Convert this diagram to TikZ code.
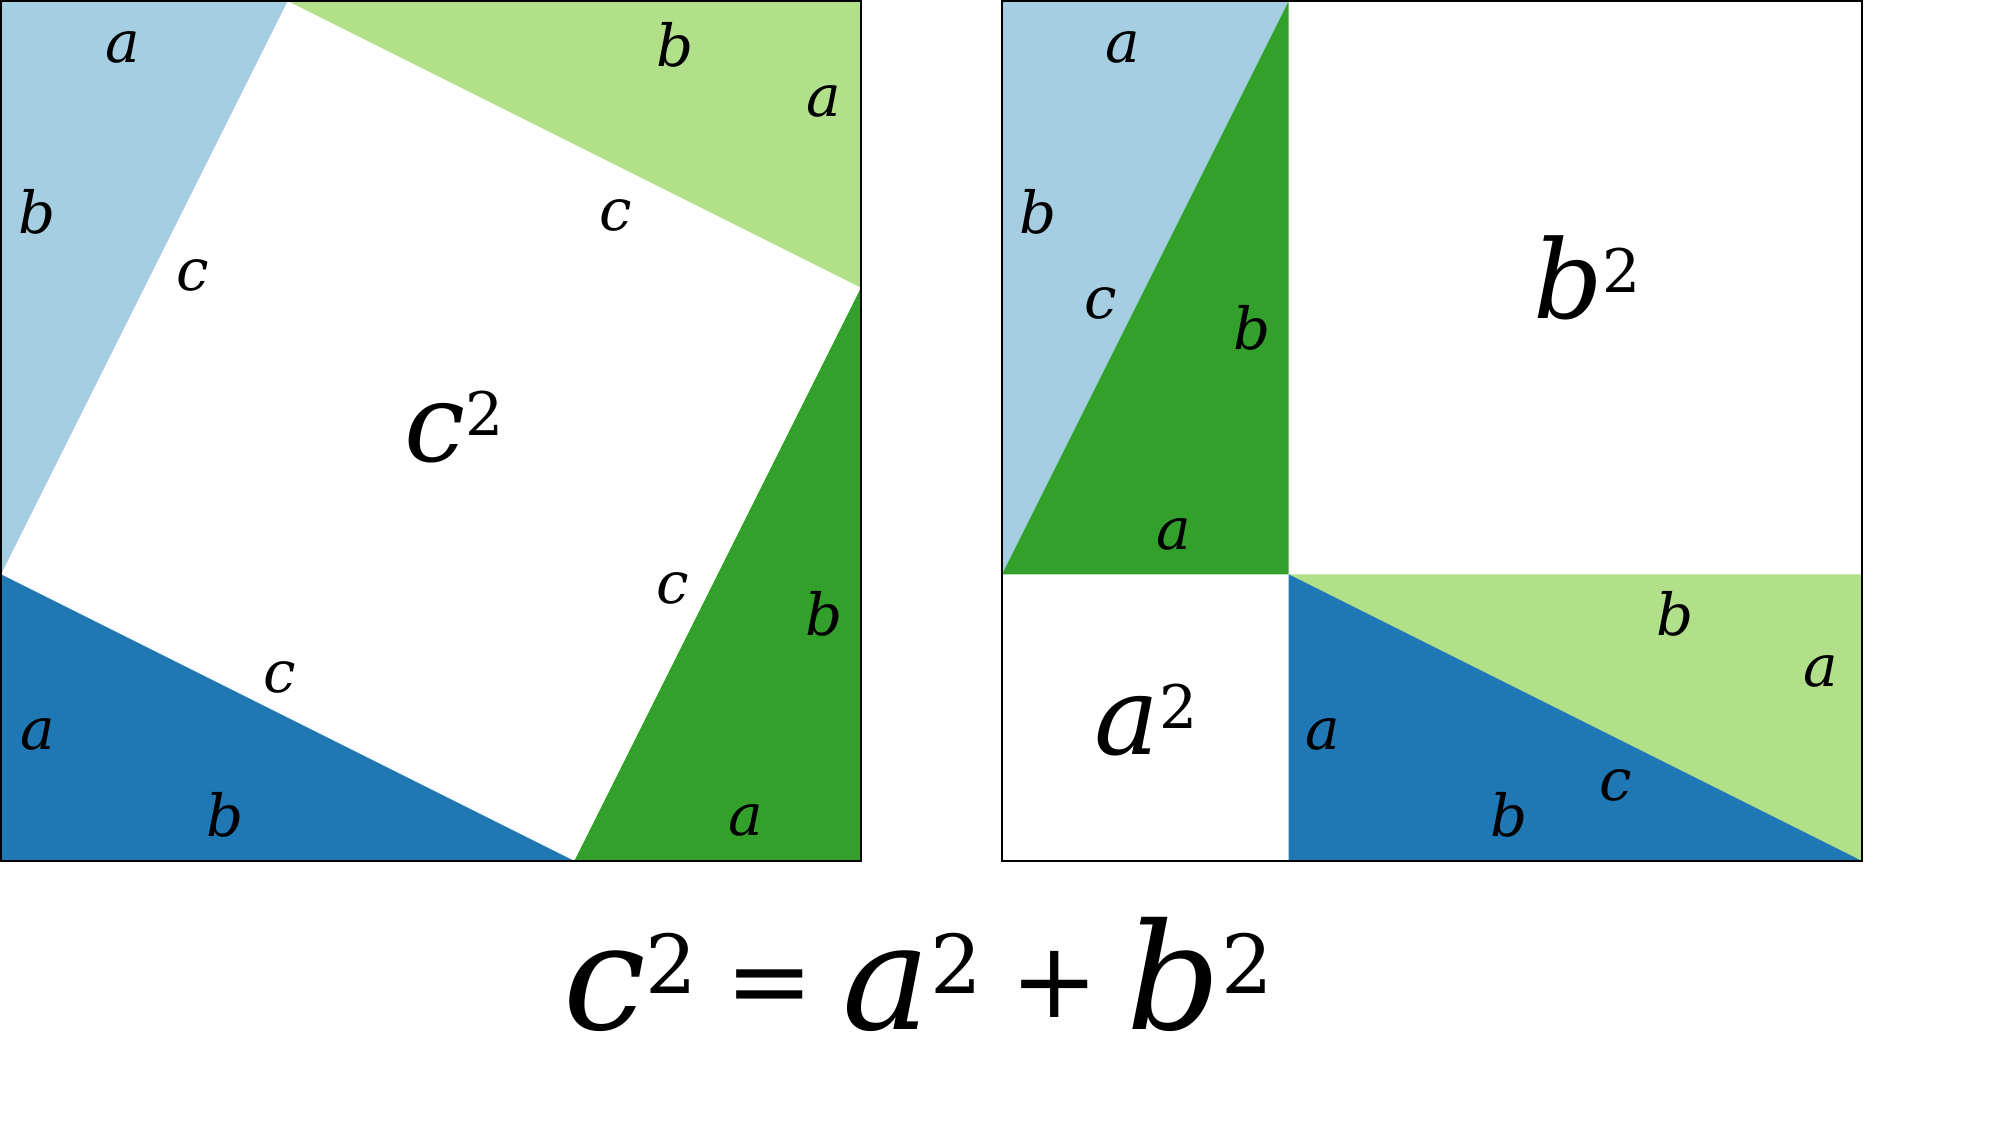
\documentclass[tikz,border=0pt]{standalone}
\usepackage{fontspec}
\setmainfont{DejaVu Serif}
\usetikzlibrary{positioning}

\definecolor{paleblue}{HTML}{A6CEE3}
\definecolor{deepblue}{HTML}{1F78B4}
\definecolor{palegreen}{HTML}{B2DF8A}
\definecolor{deepgreen}{HTML}{33A02C}

\newcommand{\sqterm}[1]{\textit{#1}\raisebox{0.24em}{\scalebox{0.55}{2}}}
\newcommand{\eqop}[1]{\hspace{8pt}\raisebox{3.4pt}{\fontsize{30}{34}\selectfont #1}\hspace{8pt}}

\tikzset{
    side/.style={font=\fontsize{16.5}{18}\selectfont\itshape, inner sep=0pt},
    area/.style={font=\fontsize{31}{35}\selectfont, inner sep=0pt},
    frame/.style={draw=black, line width=0.75pt},
}

\begin{document}
\begin{tikzpicture}[x=0.01cm, y=-0.01cm]
    \useasboundingbox (0,0) rectangle (2000,1143);

    \begin{scope}
        % Left square: four triangles round the c square
        \coordinate (L1) at (1,1);
        \coordinate (L2) at (861,1);
        \coordinate (L3) at (861,861);
        \coordinate (L4) at (1,861);
        \coordinate (Lt) at (287.67,1);
        \coordinate (Lr) at (861,287.67);
        \coordinate (Lb) at (574.33,861);
        \coordinate (Ll) at (1,574.33);

        \fill[paleblue] (L1) -- (Lt) -- (Ll) -- cycle;
        \fill[palegreen] (Lt) -- (L2) -- (Lr) -- cycle;
        \fill[deepgreen] (Lr) -- (L3) -- (Lb) -- cycle;
        \fill[deepblue] (Ll) -- (Lb) -- (L4) -- cycle;
        \draw[frame] (L1) rectangle (L3);

        \node[side] (la1) at (123,47) {a};
        \node[side] (lb1) at (37,212) {b};
        \node[side] (lc1) at (193,275) {c};
        \node[side] (lb2) at (675,45) {b};
        \node[side] (la2) at (824,101) {a};
        \node[side] (lc2) at (616,215) {c};
        \node[side] (lc3) at (673,588) {c};
        \node[side] (lb3) at (824,614) {b};
        \node[side] (la3) at (746,820) {a};
        \node[side] (lc4) at (280,677) {c};
        \node[side] (la4) at (38,734) {a};
        \node[side] (lb4) at (225,815) {b};
        \node[area] (csq) at (454,427) {\sqterm{c}};
    \end{scope}

    \begin{scope}
        % Right square: same triangles, moved into two rectangles
        \coordinate (R1) at (1002,1);
        \coordinate (R2) at (1862,1);
        \coordinate (R3) at (1862,861);
        \coordinate (R4) at (1002,861);
        \coordinate (Rt) at (1288.67,1);
        \coordinate (Rl) at (1002,574.33);
        \coordinate (Rc) at (1288.67,574.33);
        \coordinate (Rr) at (1862,574.33);
        \coordinate (Rb) at (1288.67,861);

        \fill[paleblue] (R1) -- (Rt) -- (Rl) -- cycle;
        \fill[deepgreen] (Rt) -- (Rc) -- (Rl) -- cycle;
        \fill[palegreen] (Rc) -- (Rr) -- (R3) -- cycle;
        \fill[deepblue] (Rc) -- (R3) -- (Rb) -- cycle;
        \draw[frame] (R1) rectangle (R3);

        \node[side] (ra1) at (1123,47) {a};
        \node[side] (rb1) at (1038,212) {b};
        \node[side] (rc1) at (1101,303) {c};
        \node[side] (rb2) at (1252,328) {b};
        \node[side] (ra2) at (1174,534) {a};
        \node[side] (rb3) at (1675,614) {b};
        \node[side] (ra3) at (1821,671) {a};
        \node[side] (ra4) at (1323,734) {a};
        \node[side] (rb4) at (1509,815) {b};
        \node[side] (rc4) at (1616,785) {c};
        \node[area] (bsq) at (1587,278) {\sqterm{b}};
        \node[area] (asq) at (1146,720) {\sqterm{a}};
    \end{scope}

    % The equation below both squares
    \node[font=\fontsize{42}{48}\selectfont, inner sep=0pt, anchor=base] (eqn) at (918,1029)
        {\sqterm{c}\eqop{=}\sqterm{a}\eqop{+}\sqterm{b}};
\end{tikzpicture}
\end{document}
